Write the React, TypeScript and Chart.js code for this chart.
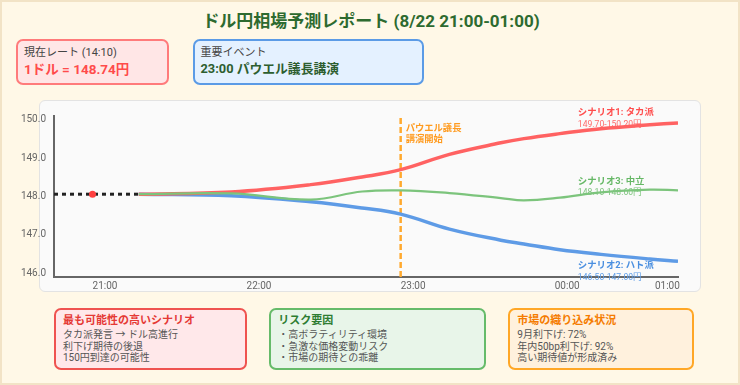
import React, { useEffect, useRef } from "react";
import { Chart, registerables } from "chart.js";

Chart.register(...registerables);

const FONT = 'Roboto, "Noto Sans CJK JP", sans-serif';

// ---- data ----
const timeLabels = ["21:00", "22:00", "23:00", "00:00", "01:00"];
const timeTickValues = [0, 60, 120, 180, 219]; // minutes after 21:00
const yTickValues = [146, 147, 148, 149, 150];

const historyTimes = [-15, 18];
const historyRates = [148.06, 148.06];
const currentTimes = [0];
const currentRates = [148.06];

const eventTime = 120;
const eventLabel = ["パウエル議長", "講演開始"];

const scenarioTimes = [18, 54, 85, 105, 120, 139, 159, 168, 182, 198, 217, 228];
const hawkishRates = [148.06, 148.12, 148.31, 148.51, 148.7, 149.1, 149.4, 149.51, 149.64, 149.77, 149.87, 149.92];
const dovishRates = [148.06, 148.02, 147.86, 147.7, 147.54, 147.15, 146.86, 146.76, 146.61, 146.49, 146.37, 146.31];
const neutralRates = [148.06, 148.08, 147.92, 148.13, 148.16, 148.09, 147.96, 147.9, 147.97, 148.11, 148.18, 148.16];

const scenarioNames = ["シナリオ1: タカ派", "シナリオ2: ハト派", "シナリオ3: 中立"];
const scenarioRanges = ["149.70-150.20円", "146.50-147.00円", "148.10-148.60円"];

const yMin = 145.9;
const yMax = 150.1;

const toPoints = (xs: number[], ys: number[]) => xs.map((x, i) => ({ x, y: ys[i] }));

const annotationPlugin = {
  id: "scenarioAnnotations",
  beforeDatasetsDraw(chart: any) {
    const { ctx, chartArea } = chart;
    const xs = chart.scales.x;
    const ys = chart.scales.y;
    ctx.save();
    ctx.textAlign = "left";
    ctx.textBaseline = "middle";
    // event label
    const ex = xs.getPixelForValue(eventTime);
    ctx.fillStyle = "#ff9b1f";
    ctx.font = `bold 9.3px ${FONT}`;
    ctx.fillText(eventLabel[0], ex + 5, chartArea.top + 12.6);
    ctx.fillText(eventLabel[1], ex + 5, chartArea.top + 23.6);
    // scenario labels
    const anchorX = xs.getPixelForValue(189);
    const anchorVals = [150.19, 146.19, 148.4];
    const titleColors = ["#ff4d4d", "#4a8fe0", "#66b866"];
    const subColors = ["#ff6b6b", "#5f9ee8", "#7cc47c"];
    scenarioNames.forEach((name, i) => {
      const yy = ys.getPixelForValue(anchorVals[i]);
      ctx.fillStyle = titleColors[i];
      ctx.font = `bold 9.4px ${FONT}`;
      ctx.fillText(name, anchorX, yy);
      ctx.fillStyle = subColors[i];
      ctx.font = `8.6px ${FONT}`;
      ctx.fillText(scenarioRanges[i], anchorX, yy + 11.8);
    });
    ctx.restore();
  },
};

function ChartCanvas() {
  const ref = useRef<HTMLCanvasElement>(null);
  useEffect(() => {
    const chart = new Chart(ref.current!, {
      type: "line",
      data: {
        datasets: [
          {
            label: "現在",
            data: toPoints(currentTimes, currentRates),
            showLine: false,
            pointRadius: 3.5,
            pointBackgroundColor: "#ff4040",
            pointBorderWidth: 0,
            order: 0,
          },
          {
            label: "推移",
            data: toPoints(historyTimes, historyRates),
            borderColor: "#222",
            borderWidth: 3,
            borderDash: [4, 4],
            pointRadius: 0,
            order: 1,
          },
          {
            label: "中立",
            data: toPoints(scenarioTimes, neutralRates),
            borderColor: "#7cc47c",
            borderWidth: 2.2,
            pointRadius: 0,
            tension: 0.4,
            order: 2,
          },
          {
            label: "タカ派",
            data: toPoints(scenarioTimes, hawkishRates),
            borderColor: "#ff6262",
            borderWidth: 3.5,
            pointRadius: 0,
            tension: 0.4,
            order: 3,
          },
          {
            label: "ハト派",
            data: toPoints(scenarioTimes, dovishRates),
            borderColor: "#5e9be6",
            borderWidth: 3.5,
            pointRadius: 0,
            tension: 0.4,
            order: 4,
          },
          {
            label: "イベント",
            data: [
              { x: eventTime, y: yMin },
              { x: eventTime, y: yMax },
            ],
            borderColor: "#ffa92e",
            borderWidth: 2.5,
            borderDash: [6, 3],
            pointRadius: 0,
            order: 5,
          },
        ],
      } as any,
      options: {
        responsive: false,
        animation: false,
        layout: { padding: { left: 0, right: 62, top: 16, bottom: 0 }, autoPadding: false } as any,
        plugins: { legend: { display: false }, tooltip: { enabled: false } },
        scales: {
          x: {
            type: "linear",
            min: -15,
            max: 228,
            grid: { display: false, drawTicks: false },
            border: { display: true, color: "#666", width: 2 },
            afterFit: (s: any) => {
              s.height = 23;
            },
            afterBuildTicks: (s: any) => {
              s.ticks = timeTickValues.map((v) => ({ value: v }));
            },
            ticks: {
              align: "start",
              padding: 3,
              color: "#666",
              font: { size: 10, family: FONT },
              maxRotation: 0,
              autoSkip: false,
              callback: (v: any) => {
                const i = timeTickValues.indexOf(Number(v));
                return i >= 0 ? timeLabels[i] : "";
              },
            },
          },
          y: {
            type: "linear",
            min: yMin,
            max: yMax,
            grid: { display: false, drawTicks: false },
            border: { display: true, color: "#666", width: 2 },
            afterFit: (s: any) => {
              s.width = 54;
            },
            afterBuildTicks: (s: any) => {
              s.ticks = yTickValues.map((v) => ({ value: v }));
            },
            ticks: {
              padding: 8,
              color: "#666",
              font: { size: 10, family: FONT },
              callback: (v: any) => Number(v).toFixed(1),
            },
          },
        },
      } as any,
      plugins: [annotationPlugin],
    });
    return () => chart.destroy();
  }, []);
  return (
    <canvas
      ref={ref}
      width={740}
      height={200}
      style={{ position: "absolute", left: -2, top: 98, width: 740, height: 200 }}
    />
  );
}

const boxBase: React.CSSProperties = {
  position: "absolute",
  boxSizing: "border-box",
  borderRadius: 7,
  borderWidth: 2,
  borderStyle: "solid",
};

function InfoBox(props: {
  left: number;
  width: number;
  bg: string;
  border: string;
  titleColor: string;
  title: string;
  lines: string[];
}) {
  return (
    <div
      style={{
        ...boxBase,
        left: props.left,
        top: 306,
        width: props.width,
        height: 62,
        background: props.bg,
        borderColor: props.border,
        padding: "4px 7px",
      }}
    >
      <div style={{ fontSize: 11, lineHeight: "14px", fontWeight: 700, color: props.titleColor, marginBottom: 1 }}>
        {props.title}
      </div>
      {props.lines.map((l, i) => (
        <div key={i} style={{ fontSize: 10, lineHeight: "11.7px", color: "#555", whiteSpace: "nowrap" }}>
          {l}
        </div>
      ))}
    </div>
  );
}

export default function App() {
  useEffect(() => {
    document.body.style.margin = "0";
  }, []);
  return (
    <div
      style={{
        position: "relative",
        width: 740,
        height: 385,
        boxSizing: "border-box",
        border: "2px solid #f2e3c6",
        background: "#fff8e7",
        fontFamily: FONT,
        overflow: "hidden",
      }}
    >
      <div
        style={{
          position: "absolute",
          left: 0,
          top: 8,
          width: 738,
          textAlign: "center",
          fontSize: 17,
          lineHeight: "22px",
          fontWeight: 700,
          color: "#2d6a2f",
        }}
      >
        ドル円相場予測レポート (8/22 21:00-01:00)
      </div>

      <div
        style={{
          ...boxBase,
          left: 14,
          top: 37,
          width: 153,
          height: 46,
          background: "#ffe6e6",
          borderColor: "#ff7b7b",
          padding: "5px 6px",
        }}
      >
        <div style={{ fontSize: 11, lineHeight: "14px", color: "#444" }}>現在レート (14:10)</div>
        <div style={{ fontSize: 13.5, lineHeight: "18px", fontWeight: 700, color: "#ff4b4b", whiteSpace: "nowrap" }}>
          1ドル = 148.74円
        </div>
      </div>

      <div
        style={{
          ...boxBase,
          left: 190.5,
          top: 37,
          width: 231,
          height: 46,
          background: "#e4f1ff",
          borderColor: "#5b9be6",
          padding: "5px 6px",
        }}
      >
        <div style={{ fontSize: 11, lineHeight: "14px", color: "#444" }}>重要イベント</div>
        <div style={{ fontSize: 12.8, lineHeight: "18px", fontWeight: 700, color: "#2d5e2f", whiteSpace: "nowrap" }}>
          23:00 パウエル議長講演
        </div>
      </div>

      <div
        style={{
          ...boxBase,
          left: 37,
          top: 98,
          width: 662,
          height: 192,
          background: "#fafafa",
          borderColor: "#e3e3e3",
          borderWidth: 1.5,
          borderRadius: 6,
        }}
      />
      <ChartCanvas />

      <InfoBox
        left={52}
        width={193}
        bg="#ffe8ea"
        border="#ef5350"
        titleColor="#e53935"
        title="最も可能性の高いシナリオ"
        lines={["タカ派発言 → ドル高進行", "利下げ期待の後退", "150円到達の可能性"]}
      />
      <InfoBox
        left={267.3}
        width={216.4}
        bg="#e8f5e9"
        border="#66bb6a"
        titleColor="#2e7d32"
        title="リスク要因"
        lines={["・高ボラティリティ環境", "・急激な価格変動リスク", "・市場の期待との乖離"]}
      />
      <InfoBox
        left={506.3}
        width={185.7}
        bg="#fff1dd"
        border="#ffa726"
        titleColor="#f57c00"
        title="市場の織り込み状況"
        lines={["9月利下げ: 72%", "年内50bp利下げ: 92%", "高い期待値が形成済み"]}
      />
    </div>
  );
}
